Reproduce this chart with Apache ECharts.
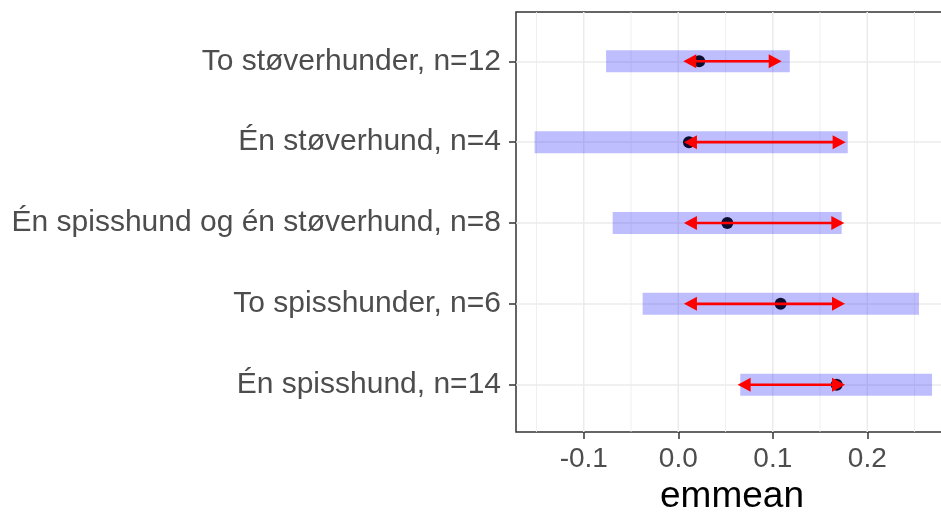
<!DOCTYPE html>
<html>
<head>
<meta charset="utf-8">
<script src="https://cdn.jsdelivr.net/npm/echarts@6/dist/echarts.min.js"></script>
<style>
  html, body { margin: 0; padding: 0; background: #fff; }
  #chart { width: 941px; height: 513px; }
</style>
</head>
<body>
<div id="chart"></div>
<script>
// Estimated marginal means with confidence bands and comparison arrows
const groups = [
  'To støverhunder, n=12',
  'Én støverhund, n=4',
  'Én spisshund og én støverhund, n=8',
  'To spisshunder, n=6',
  'Én spisshund, n=14'
];
const emmean   = [0.0222, 0.0113, 0.0519, 0.1083, 0.1676];
const lowerCL  = [-0.0764, -0.1520, -0.0694, -0.0377, 0.0656];
const upperCL  = [0.1180, 0.1793, 0.1729, 0.2547, 0.2685];
const cmpLeft  = [0.0053, 0.0060, 0.0060, 0.0060, 0.0628];
const cmpRight = [0.1094, 0.1771, 0.1757, 0.1764, 0.1764];

const majorTicks = [-0.1, 0.0, 0.1, 0.2];
const minorTicks = [-0.15, -0.05, 0.05, 0.15, 0.25];
const xMin = -0.1717;
const xMax = 0.2854;

const FONT = "'Liberation Sans', Arial, sans-serif";
const chart = echarts.init(document.getElementById('chart'), null, { renderer: 'canvas' });

// vertical panel grid lines
function vLines(width) {
  return function (params, api) {
    const v = api.value(0);
    const a = api.coord([v, 0]);
    const b = api.coord([v, 1]);
    return {
      type: 'line',
      shape: { x1: a[0], y1: a[1], x2: b[0], y2: b[1] },
      style: { stroke: '#EBEBEB', lineWidth: width }
    };
  };
}

const bandData = groups.map((g, i) => [lowerCL[i], upperCL[i], i]);
const dotData = groups.map((g, i) => [emmean[i], i]);
const arrowData = groups.map((g, i) => [cmpLeft[i], cmpRight[i], i]);

const option = {
  backgroundColor: '#fff',
  animation: false,
  grid: [
    { left: 516, width: 432, top: 12, height: 420, show: true,
      outerBoundsMode: 'none', containLabel: false,
      borderColor: '#333333', borderWidth: 1.5, backgroundColor: 'transparent' },
    { left: 516, width: 432, top: 61.3, height: 323.4,
      outerBoundsMode: 'none', containLabel: false }
  ],
  xAxis: [
    {
      gridIndex: 0, type: 'value', min: xMin, max: xMax,
      axisLine: { show: false, onZero: false },
      axisTick: { show: true, customValues: majorTicks, length: 7,
                  lineStyle: { color: '#333333', width: 1.5 } },
      axisLabel: { show: true, customValues: majorTicks, margin: 13,
                   formatter: v => v.toFixed(1),
                   fontFamily: FONT, fontSize: 28, color: '#4D4D4D' },
      splitLine: { show: false },
      name: 'emmean', nameLocation: 'middle', nameGap: 44,
      nameTextStyle: { fontFamily: FONT, fontSize: 37, color: '#000' }
    },
    { gridIndex: 1, type: 'value', min: xMin, max: xMax, show: false,
      axisLine: { onZero: false }, splitLine: { show: false } }
  ],
  yAxis: [
    { gridIndex: 0, type: 'value', min: 0, max: 1, show: false,
      axisLine: { onZero: false }, splitLine: { show: false } },
    {
      gridIndex: 1, type: 'category', data: groups, inverse: true, boundaryGap: false,
      axisLine: { show: false, onZero: false },
      axisTick: { show: true, length: 7, alignWithLabel: true,
                  lineStyle: { color: '#333333', width: 1.5 } },
      axisLabel: { margin: 15, fontFamily: FONT, fontSize: 30, color: '#4D4D4D' },
      splitLine: { show: true, lineStyle: { color: '#EBEBEB', width: 1.5 } }
    }
  ],
  series: [
    { type: 'custom', xAxisIndex: 0, yAxisIndex: 0, z: 1, silent: true,
      data: minorTicks.map(v => [v]), renderItem: vLines(0.8) },
    { type: 'custom', xAxisIndex: 0, yAxisIndex: 0, z: 1, silent: true,
      data: majorTicks.map(v => [v]), renderItem: vLines(1.5) },
    // confidence bands
    { type: 'custom', xAxisIndex: 1, yAxisIndex: 1, z: 2,
      data: bandData, encode: { x: [0, 1], y: 2 },
      renderItem: function (params, api) {
        const i = api.value(2);
        const a = api.coord([api.value(0), i]);
        const b = api.coord([api.value(1), i]);
        return { type: 'rect',
          shape: { x: a[0], y: a[1] - 11, width: b[0] - a[0], height: 22 },
          style: { fill: 'rgba(40,40,255,0.30)' } };
      } },
    // estimated means
    { type: 'scatter', xAxisIndex: 1, yAxisIndex: 1, z: 3,
      data: dotData, symbol: 'circle', symbolSize: 12,
      itemStyle: { color: '#0d0d30', opacity: 1 } },
    // comparison arrows
    { type: 'custom', xAxisIndex: 1, yAxisIndex: 1, z: 4,
      data: arrowData, encode: { x: [0, 1], y: 2 },
      renderItem: function (params, api) {
        const i = api.value(2);
        const l = api.coord([api.value(0), i]);
        const r = api.coord([api.value(1), i]);
        const y = l[1], hl = 13, hw = 7;
        return { type: 'group', children: [
          { type: 'line', shape: { x1: l[0] + 4, y1: y, x2: r[0] - 4, y2: y },
            style: { stroke: '#FF0000', lineWidth: 2.6 } },
          { type: 'polygon', shape: { points: [[l[0], y], [l[0] + hl, y - hw], [l[0] + hl, y + hw]] },
            style: { fill: '#FF0000' } },
          { type: 'polygon', shape: { points: [[r[0], y], [r[0] - hl, y - hw], [r[0] - hl, y + hw]] },
            style: { fill: '#FF0000' } }
        ] };
      } }
  ]
};
chart.setOption(option);
</script>
</body>
</html>
